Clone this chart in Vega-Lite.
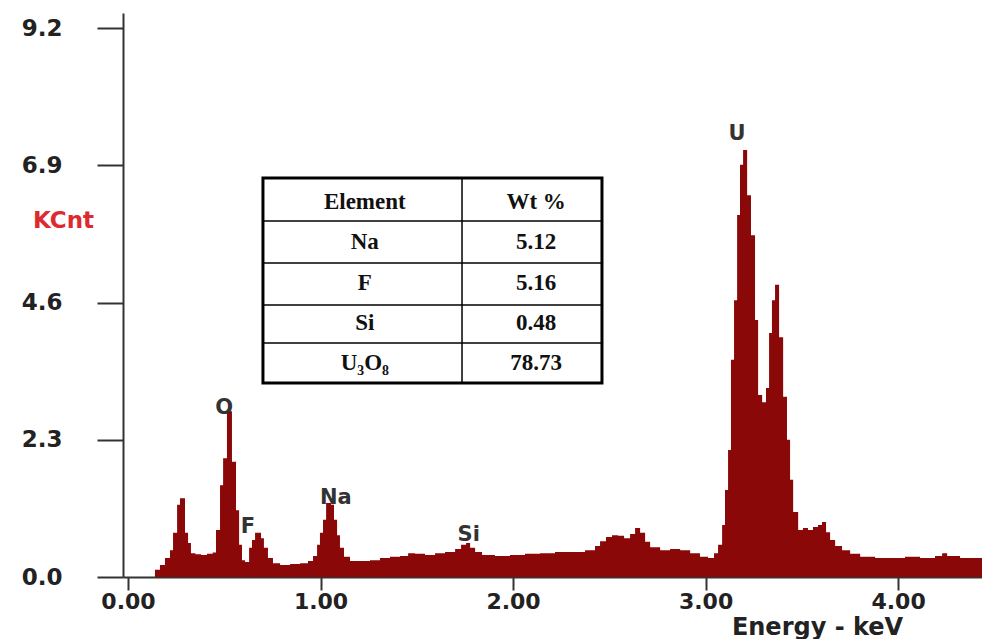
{
  "$schema": "https://vega.github.io/schema/vega-lite/v6.json",
  "width": 859,
  "height": 564,
  "autosize": {"type": "none"},
  "padding": {"left": 123, "top": 13, "right": 0, "bottom": 62},
  "background": "white",
  "config": {"view": {"stroke": null}},
  "datasets": {
    "spectrum": [
      {"energy": 0.110, "kcnt": 0},
      {"energy": 0.140, "kcnt": 0.12},
      {"energy": 0.166, "kcnt": 0.20},
      {"energy": 0.192, "kcnt": 0.32},
      {"energy": 0.218, "kcnt": 0.45},
      {"energy": 0.234, "kcnt": 0.74},
      {"energy": 0.255, "kcnt": 1.21},
      {"energy": 0.270, "kcnt": 1.32},
      {"energy": 0.296, "kcnt": 0.74},
      {"energy": 0.312, "kcnt": 0.57},
      {"energy": 0.327, "kcnt": 0.40},
      {"energy": 0.350, "kcnt": 0.38},
      {"energy": 0.380, "kcnt": 0.37},
      {"energy": 0.410, "kcnt": 0.39},
      {"energy": 0.440, "kcnt": 0.41},
      {"energy": 0.457, "kcnt": 0.79},
      {"energy": 0.478, "kcnt": 1.54},
      {"energy": 0.494, "kcnt": 1.99},
      {"energy": 0.514, "kcnt": 2.78},
      {"energy": 0.540, "kcnt": 1.93},
      {"energy": 0.561, "kcnt": 1.12},
      {"energy": 0.577, "kcnt": 0.54},
      {"energy": 0.592, "kcnt": 0.28},
      {"energy": 0.608, "kcnt": 0.25},
      {"energy": 0.629, "kcnt": 0.49},
      {"energy": 0.644, "kcnt": 0.62},
      {"energy": 0.660, "kcnt": 0.74},
      {"energy": 0.691, "kcnt": 0.65},
      {"energy": 0.706, "kcnt": 0.49},
      {"energy": 0.727, "kcnt": 0.32},
      {"energy": 0.753, "kcnt": 0.23},
      {"energy": 0.790, "kcnt": 0.20},
      {"energy": 0.842, "kcnt": 0.22},
      {"energy": 0.894, "kcnt": 0.23},
      {"energy": 0.935, "kcnt": 0.27},
      {"energy": 0.961, "kcnt": 0.35},
      {"energy": 0.982, "kcnt": 0.54},
      {"energy": 0.997, "kcnt": 0.74},
      {"energy": 1.013, "kcnt": 0.96},
      {"energy": 1.029, "kcnt": 1.24},
      {"energy": 1.055, "kcnt": 1.21},
      {"energy": 1.070, "kcnt": 0.96},
      {"energy": 1.086, "kcnt": 0.70},
      {"energy": 1.101, "kcnt": 0.49},
      {"energy": 1.122, "kcnt": 0.34},
      {"energy": 1.153, "kcnt": 0.27},
      {"energy": 1.205, "kcnt": 0.27},
      {"energy": 1.257, "kcnt": 0.28},
      {"energy": 1.309, "kcnt": 0.32},
      {"energy": 1.361, "kcnt": 0.34},
      {"energy": 1.413, "kcnt": 0.35},
      {"energy": 1.455, "kcnt": 0.40},
      {"energy": 1.491, "kcnt": 0.39},
      {"energy": 1.543, "kcnt": 0.37},
      {"energy": 1.595, "kcnt": 0.40},
      {"energy": 1.647, "kcnt": 0.42},
      {"energy": 1.699, "kcnt": 0.47},
      {"energy": 1.730, "kcnt": 0.54},
      {"energy": 1.756, "kcnt": 0.57},
      {"energy": 1.777, "kcnt": 0.49},
      {"energy": 1.803, "kcnt": 0.42},
      {"energy": 1.839, "kcnt": 0.37},
      {"energy": 1.906, "kcnt": 0.35},
      {"energy": 1.984, "kcnt": 0.37},
      {"energy": 2.062, "kcnt": 0.39},
      {"energy": 2.140, "kcnt": 0.40},
      {"energy": 2.218, "kcnt": 0.42},
      {"energy": 2.296, "kcnt": 0.42},
      {"energy": 2.374, "kcnt": 0.45},
      {"energy": 2.426, "kcnt": 0.52},
      {"energy": 2.452, "kcnt": 0.60},
      {"energy": 2.483, "kcnt": 0.67},
      {"energy": 2.514, "kcnt": 0.70},
      {"energy": 2.545, "kcnt": 0.69},
      {"energy": 2.577, "kcnt": 0.65},
      {"energy": 2.608, "kcnt": 0.72},
      {"energy": 2.634, "kcnt": 0.82},
      {"energy": 2.660, "kcnt": 0.74},
      {"energy": 2.686, "kcnt": 0.59},
      {"energy": 2.712, "kcnt": 0.50},
      {"energy": 2.764, "kcnt": 0.45},
      {"energy": 2.816, "kcnt": 0.47},
      {"energy": 2.868, "kcnt": 0.45},
      {"energy": 2.920, "kcnt": 0.40},
      {"energy": 2.971, "kcnt": 0.34},
      {"energy": 3.013, "kcnt": 0.32},
      {"energy": 3.044, "kcnt": 0.40},
      {"energy": 3.065, "kcnt": 0.54},
      {"energy": 3.086, "kcnt": 0.87},
      {"energy": 3.101, "kcnt": 1.46},
      {"energy": 3.117, "kcnt": 2.13},
      {"energy": 3.132, "kcnt": 3.64},
      {"energy": 3.148, "kcnt": 4.64},
      {"energy": 3.164, "kcnt": 6.07},
      {"energy": 3.179, "kcnt": 6.91},
      {"energy": 3.195, "kcnt": 7.16},
      {"energy": 3.216, "kcnt": 6.40},
      {"energy": 3.236, "kcnt": 5.73},
      {"energy": 3.257, "kcnt": 4.31},
      {"energy": 3.273, "kcnt": 3.05},
      {"energy": 3.294, "kcnt": 2.93},
      {"energy": 3.314, "kcnt": 3.17},
      {"energy": 3.330, "kcnt": 4.09},
      {"energy": 3.345, "kcnt": 4.64},
      {"energy": 3.361, "kcnt": 4.90},
      {"energy": 3.382, "kcnt": 4.02},
      {"energy": 3.403, "kcnt": 3.02},
      {"energy": 3.423, "kcnt": 2.30},
      {"energy": 3.439, "kcnt": 1.63},
      {"energy": 3.455, "kcnt": 1.09},
      {"energy": 3.481, "kcnt": 0.79},
      {"energy": 3.506, "kcnt": 0.82},
      {"energy": 3.532, "kcnt": 0.79},
      {"energy": 3.558, "kcnt": 0.84},
      {"energy": 3.584, "kcnt": 0.87},
      {"energy": 3.605, "kcnt": 0.92},
      {"energy": 3.626, "kcnt": 0.75},
      {"energy": 3.647, "kcnt": 0.62},
      {"energy": 3.673, "kcnt": 0.52},
      {"energy": 3.709, "kcnt": 0.45},
      {"energy": 3.751, "kcnt": 0.39},
      {"energy": 3.803, "kcnt": 0.34},
      {"energy": 3.881, "kcnt": 0.32},
      {"energy": 3.958, "kcnt": 0.32},
      {"energy": 4.036, "kcnt": 0.34},
      {"energy": 4.114, "kcnt": 0.32},
      {"energy": 4.192, "kcnt": 0.35},
      {"energy": 4.229, "kcnt": 0.40},
      {"energy": 4.255, "kcnt": 0.35},
      {"energy": 4.322, "kcnt": 0.32},
      {"energy": 4.400, "kcnt": 0.32},
      {"energy": 4.460, "kcnt": 0.32}
    ],
    "peaks": [
      {"energy": 0.499, "kcnt": 2.83, "label": "O"},
      {"energy": 0.623, "kcnt": 0.84, "label": "F"},
      {"energy": 1.080, "kcnt": 1.32, "label": "Na"},
      {"energy": 1.770, "kcnt": 0.70, "label": "Si"},
      {"energy": 3.164, "kcnt": 7.43, "label": "U"}
    ],
    "tableBox": [
      {"energy": 0.701, "energy2": 2.462, "kcnt": 3.252, "kcnt2": 6.689}
    ],
    "tableHLines": [
      {"energy": 0.701, "energy2": 2.462, "kcnt": 5.968},
      {"energy": 0.701, "energy2": 2.462, "kcnt": 5.264},
      {"energy": 0.701, "energy2": 2.462, "kcnt": 4.560},
      {"energy": 0.701, "energy2": 2.462, "kcnt": 3.923}
    ],
    "tableVLines": [
      {"energy": 1.735, "kcnt": 3.252, "kcnt2": 6.689}
    ],
    "tableCells": [
      {"energy": 1.23, "kcnt": 6.287, "text": "Element"},
      {"energy": 2.12, "kcnt": 6.287, "text": "Wt %"},
      {"energy": 1.23, "kcnt": 5.616, "text": "Na"},
      {"energy": 2.12, "kcnt": 5.616, "text": "5.12"},
      {"energy": 1.23, "kcnt": 4.929, "text": "F"},
      {"energy": 2.12, "kcnt": 4.929, "text": "5.16"},
      {"energy": 1.23, "kcnt": 4.258, "text": "Si"},
      {"energy": 2.12, "kcnt": 4.258, "text": "0.48"},
      {"energy": 1.23, "kcnt": 3.588, "text": "U₃O₈"},
      {"energy": 2.12, "kcnt": 3.588, "text": "78.73"}
    ]
  },
  "encoding": {
    "x": {
      "field": "energy", "type": "quantitative",
      "scale": {"domain": [-0.026, 4.436], "nice": false, "zero": false},
      "axis": {
        "values": [0, 1, 2, 3, 4], "format": ".2f", "title": "Energy - keV",
        "grid": false, "domainColor": "#333", "domainWidth": 2,
        "tickColor": "#333", "tickWidth": 2, "tickSize": 13,
        "labelFont": "DejaVu Sans", "labelFontWeight": "bold", "labelFontSize": 22,
        "labelColor": "#222", "labelPadding": 1, "labelDx": 6,
        "labelFlush": false, "labelOverlap": false, "labelBound": false,
        "titleFont": "DejaVu Sans", "titleFontWeight": "bold", "titleFontSize": 24,
        "titleColor": "#222", "titleX": 694, "titleY": 57, "titleAlign": "center",
        "titleBaseline": "alphabetic", "titleAnchor": "start"
      }
    },
    "y": {
      "field": "kcnt", "type": "quantitative",
      "scale": {"domain": [0, 9.455], "nice": false, "zero": false},
      "axis": {
        "values": [0, 2.3, 4.6, 6.9, 9.2], "format": ".1f", "title": "KCnt",
        "grid": false, "domainColor": "#333", "domainWidth": 2,
        "tickColor": "#333", "tickWidth": 2, "tickSize": 26,
        "labelFont": "DejaVu Sans", "labelFontWeight": "bold", "labelFontSize": 23,
        "labelColor": "#222", "labelPadding": 35,
        "labelFlush": false, "labelOverlap": false, "labelBound": false,
        "titleFont": "DejaVu Sans", "titleFontWeight": "bold", "titleFontSize": 23,
        "titleColor": "#dd2a30", "titleAngle": 0, "titleX": -60, "titleY": 214,
        "titleAlign": "center", "titleBaseline": "alphabetic", "titleAnchor": "start"
      }
    }
  },
  "layer": [
    {
      "data": {"name": "spectrum"},
      "mark": {"type": "area", "interpolate": "step-after", "color": "#8b0808", "clip": true}
    },
    {
      "data": {"name": "peaks"},
      "mark": {"type": "text", "font": "DejaVu Sans", "fontWeight": "bold", "fontSize": 21, "color": "#333", "align": "center", "baseline": "middle"},
      "encoding": {"text": {"field": "label"}}
    },
    {
      "data": {"name": "tableBox"},
      "mark": {"type": "rect", "fill": "white", "stroke": "black", "strokeWidth": 3},
      "encoding": {"x2": {"field": "energy2"}, "y2": {"field": "kcnt2"}}
    },
    {
      "data": {"name": "tableHLines"},
      "mark": {"type": "rule", "color": "black", "strokeWidth": 1.5},
      "encoding": {"x2": {"field": "energy2"}}
    },
    {
      "data": {"name": "tableVLines"},
      "mark": {"type": "rule", "color": "black", "strokeWidth": 1.5},
      "encoding": {"y2": {"field": "kcnt2"}}
    },
    {
      "data": {"name": "tableCells"},
      "mark": {"type": "text", "font": "Liberation Serif", "fontWeight": "bold", "fontSize": 23, "color": "#111", "align": "center", "baseline": "middle"},
      "encoding": {"text": {"field": "text"}}
    }
  ]
}
